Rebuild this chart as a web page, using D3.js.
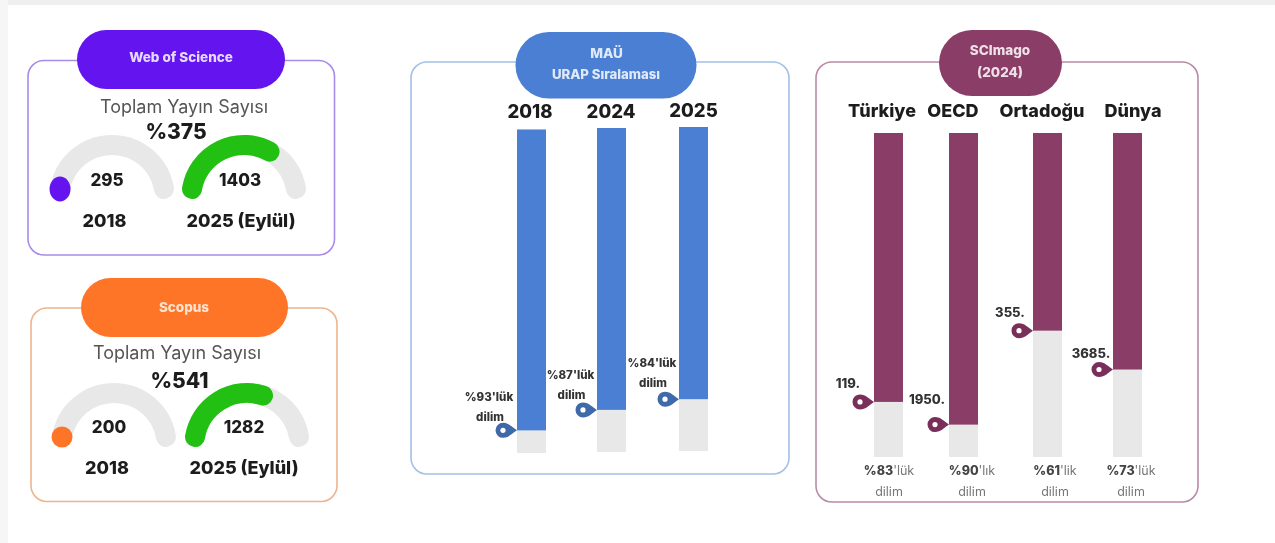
<!DOCTYPE html>
<html lang="tr">
<head>
<meta charset="utf-8">
<script src="https://cdn.jsdelivr.net/npm/d3@7"></script>
<style>
html,body{margin:0;padding:0;background:#fff;overflow:hidden}
svg{display:block;filter:blur(0.5px)}
text{font-family:Inter,Lato,"Open Sans",sans-serif}
</style>
</head>
<body>
<div id="chart"></div>
<script>
// ---------- data ----------
const gaugeLabels = ["2018", "2025 (Eylül)"];
const wosValues = [295, 1403];
const scopusValues = [200, 1282];
const gaugeFillShare = [0, 0.68];
const scopusFillShare = [0, 0.61];
const wosGrowth = "%375";
const scopusGrowth = "%541";

const urapYears = ["2018", "2024", "2025"];
const urapPercentile = [93, 87, 84];
const urapLabels = ["%93'lük", "%87'lük", "%84'lük"];

const scimagoRegions = ["Türkiye", "OECD", "Ortadoğu", "Dünya"];
const scimagoPercentile = [83, 90, 61, 73];
const scimagoRanks = ["119.", "1950.", "355.", "3685."];
const scimagoBold = ["%83", "%90", "%61", "%73"];
const scimagoSuffix = ["'lük", "'lık", "'lik", "'lük"];

// ---------- layout ----------
const W = 1275, H = 543;
const svg = d3.select("#chart").append("svg").attr("width", W).attr("height", H);
const PURPLE = "#6414ef", ORANGE = "#ff7527", BLUE = "#4a7fd3", PLUM = "#8a3d67",
      GREEN = "#22c012", GREY = "#e8e8e8", INK = "#1c1c1c";

svg.append("rect").attr("width", W).attr("height", 5).attr("fill", "#efefef");
svg.append("rect").attr("width", 8).attr("height", H).attr("fill", "#f6f6f6");

function text(x, y, s, size, weight, fill) {
  return svg.append("text").attr("x", x).attr("y", y).attr("text-anchor", "middle")
    .attr("font-size", size).attr("font-weight", weight).attr("fill", fill).text(s);
}
function panel(x0, y0, x1, y1, stroke, pill, fill) {
  svg.append("rect").attr("x", x0).attr("y", y0).attr("width", x1 - x0).attr("height", y1 - y0)
    .attr("rx", 16).attr("fill", "#fff").attr("stroke", stroke).attr("stroke-width", 1.6);
  svg.append("rect").attr("x", pill[0]).attr("y", pill[1]).attr("width", pill[2] - pill[0])
    .attr("height", pill[3] - pill[1]).attr("rx", (pill[3] - pill[1]) / 2).attr("fill", fill);
}

// ---------- gauges ----------
const GAUGE_R = 52.7;
const gaugeAngle = d3.scaleLinear().domain([0, 1]).range([-80.5 * Math.PI / 180, 80.5 * Math.PI / 180]);
function gaugeLine(share) {
  const p = d3.path();
  p.arc(0, 0, GAUGE_R, gaugeAngle(0) - Math.PI / 2, gaugeAngle(share) - Math.PI / 2);
  return p.toString();
}
function gauge(cx, cy, share, color, isDot, rx, ry) {
  const g = svg.append("g").attr("transform", `translate(${cx},${cy})`);
  g.append("path").attr("d", gaugeLine(1))
    .attr("fill", "none").attr("stroke", GREY).attr("stroke-width", 20).attr("stroke-linecap", "round");
  if (isDot) {
    const a = gaugeAngle(0);
    g.append("ellipse").attr("cx", GAUGE_R * Math.sin(a)).attr("cy", -GAUGE_R * Math.cos(a))
      .attr("rx", rx).attr("ry", ry).attr("fill", color);
  } else {
    g.append("path").attr("d", gaugeLine(share))
      .attr("fill", "none").attr("stroke", color).attr("stroke-width", 20).attr("stroke-linecap", "round");
  }
}
function gaugeCard(o) {
  panel(o.box[0], o.box[1], o.box[2], o.box[3], o.stroke, o.pill, o.color);
  text(o.titleX, o.titleY, o.title, 13.5, 800, o.titleFill);
  text(o.headX, o.headY, "Toplam Yayın Sayısı", 18, 400, "#555");
  gauge(o.cx[0], o.cy, o.share[0], o.color, true, o.dot[0], o.dot[1]);
  gauge(o.cx[1], o.cy, o.share[1], GREEN, false);
  text(o.growthX, o.growthY, o.growth, 21, 800, INK);
  o.values.forEach((v, i) => text(o.valX[i], o.valY, d3.format("d")(v), 17, 800, INK));
  gaugeLabels.forEach((l, i) => text(o.labX[i], o.labY, l, 18, 800, INK));
}
gaugeCard({box:[28,60.5,334.5,255], stroke:"#a88be8", pill:[77,30,285,89], color:PURPLE,
  title:"Web of Science", titleX:181, titleY:62, titleFill:"#e6d9ff",
  headX:184, headY:113, growth:wosGrowth, growthX:176, growthY:139,
  cx:[112,244], cy:197.7, share:gaugeFillShare, dot:[10.5,12.5],
  values:wosValues, valX:[107,240], valY:186, labX:[104.5,241], labY:227});
gaugeCard({box:[31,308,337,501.5], stroke:"#eeb48e", pill:[81,278,288,337], color:ORANGE,
  title:"Scopus", titleX:184, titleY:312, titleFill:"#ffe3cf",
  headX:177, headY:359, growth:scopusGrowth, growthX:179.5, growthY:388,
  cx:[114,247], cy:445.7, share:scopusFillShare, dot:[10.5,10.5],
  values:scopusValues, valX:[109,244], valY:433, labX:[107,244], labY:474});

// ---------- percentile bars ----------
const PIN = "M14,0 C9,-3 6,-7.5 0,-7.5 A7.5,7.5 0 0 0 0,7.5 C6,7.5 9,3 14,0 Z";
function bars(o) {
  const x = d3.scaleOrdinal().domain(o.cats).range(o.xs);
  o.cats.forEach((c, i) => {
    const y = d3.scaleLinear().domain([0, 100]).range([o.bottoms[i], o.tops[i]]);
    svg.append("rect").attr("x", x(c)).attr("y", y(100)).attr("width", o.bw)
      .attr("height", y(0) - y(100)).attr("fill", GREY);
    svg.append("rect").attr("x", x(c)).attr("y", y(100)).attr("width", o.bw)
      .attr("height", y(100 - o.values[i]) - y(100)).attr("fill", o.color);
    const p = svg.append("g").attr("transform", `translate(${x(c) - 14},${y(100 - o.values[i])})`);
    p.append("path").attr("d", PIN).attr("fill", o.pin);
    p.append("circle").attr("r", 2.6).attr("fill", "#fff");
  });
}

// URAP
panel(411, 62, 789, 474, "#a3c0e6", [515.5,32,696.5,98.5], BLUE);
text(606.5, 58, "MAÜ", 13.5, 800, "#dfe9f8");
text(606, 79, "URAP Sıralaması", 13.2, 800, "#dfe9f8");
bars({cats:urapYears, xs:[517,597,679], bw:29, tops:[129.5,128,127], bottoms:[453,452,451],
  values:urapPercentile, color:BLUE, pin:"#3f69a8"});
[[530,118],[611,118],[693.5,117]].forEach((p, i) => text(p[0], p[1], urapYears[i], 18.5, 800, INK));
[[489,401],[570.5,379],[652,367]].forEach((p, i) => {
  text(p[0], p[1], urapLabels[i], 11.5, 800, "#333");
  text(p[0] + 1, p[1] + 19.5, "dilim", 11.5, 800, "#333");
});

// SCImago
panel(816, 62, 1198, 502, "#b98aa6", [939,30,1062,96], PLUM);
text(1000, 55, "SCImago", 13.5, 800, "#f0dfe8");
text(1000, 77, "(2024)", 13.5, 800, "#f0dfe8");
bars({cats:scimagoRegions, xs:[874,949,1033,1113], bw:29, tops:[133,133,133,133], bottoms:[457,457,457,457],
  values:scimagoPercentile, color:PLUM, pin:"#7a2f5a"});
[[882,117],[953,117],[1042,116.5],[1133,116.5]].forEach((p, i) => text(p[0], p[1], scimagoRegions[i], 18, 800, INK));
[[848,388],[927,404],[1010,317],[1091,358]].forEach((p, i) => text(p[0], p[1], scimagoRanks[i], 13, 800, "#333"));
[889,972,1055,1131].forEach((cx, i) => {
  const t = text(cx, 475, "", 12.5, 400, "#777");
  t.append("tspan").attr("font-weight", 800).attr("fill", "#444").text(scimagoBold[i]);
  t.append("tspan").text(scimagoSuffix[i]);
  text(cx, 496, "dilim", 12.5, 400, "#777");
});
</script>
</body>
</html>
